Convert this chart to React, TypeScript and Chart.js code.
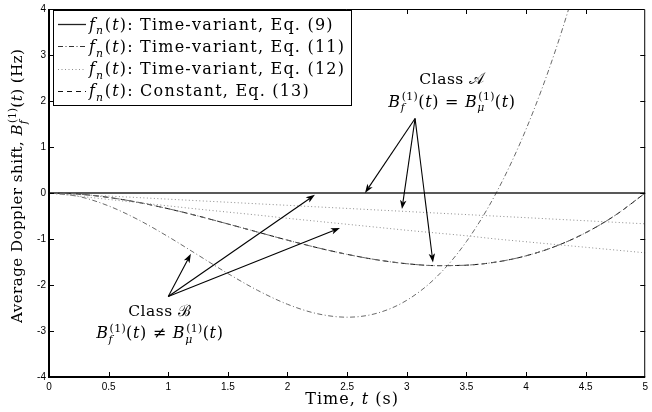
import React, { useEffect, useRef } from 'react';
import { Chart, registerables } from 'chart.js';

Chart.register(...registerables);

// ---------- data ----------
const timeS = [0, 0.25, 0.5, 0.75, 1, 1.25, 1.5, 1.75, 2, 2.25, 2.5, 2.75, 3, 3.25, 3.5, 3.75, 4, 4.25, 4.5, 4.75, 5];
const eq9Zero = [0, 0, 0, 0, 0, 0, 0, 0, 0, 0, 0, 0, 0, 0, 0, 0, 0, 0, 0, 0, 0];
const classACurve = [0, -0.025, -0.096, -0.204, -0.342, -0.5, -0.673, -0.85, -1.025, -1.189, -1.334, -1.453, -1.537, -1.579, -1.569, -1.501, -1.366, -1.157, -0.865, -0.482, 0];
const classBCurve = [0, -0.076, -0.281, -0.583, -0.95, -1.35, -1.75, -2.117, -2.419, -2.624, -2.7, -2.614, -2.333, -1.825, -1.058, 0, 1.382, 3.121, 5.249, 7.6, 10.3];
const eq12ClassA = [0, -0.034, -0.067, -0.1, -0.134, -0.168, -0.201, -0.235, -0.268, -0.302, -0.335, -0.369, -0.402, -0.436, -0.469, -0.503, -0.536, -0.57, -0.603, -0.637, -0.67];
const eq12ClassB = [0, -0.07, -0.14, -0.21, -0.28, -0.35, -0.415, -0.48, -0.55, -0.615, -0.68, -0.745, -0.81, -0.87, -0.93, -1.0, -1.06, -1.12, -1.18, -1.24, -1.3];
const xTickValues = [0, 0.5, 1, 1.5, 2, 2.5, 3, 3.5, 4, 4.5, 5];
const yTickValues = [-4, -3, -2, -1, 0, 1, 2, 3, 4];
const legendLabels = [
  'fₙ(t): Time-variant, Eq. (9)',
  'fₙ(t): Time-variant, Eq. (11)',
  'fₙ(t): Time-variant, Eq. (12)',
  'fₙ(t): Constant, Eq. (13)',
];

// annotation anchors (data coordinates)
const classAOrigin = [3.07, 1.62];
const classATargets = [[2.65, 0.0], [2.96, -0.35], [3.22, -1.51]];
const classBOrigin = [1.0, -2.25];
const classBTargets = [[1.19, -1.32], [2.23, -0.04], [2.44, -0.76]];

const SERIF = '"DejaVu Serif", "Liberation Serif", serif';
const SANS = '"Liberation Sans", Arial, sans-serif';

type Seg = { t: string; it?: boolean; sup?: string; sub?: string };

function fnt(it: boolean, size: number) {
  return `${it ? 'italic ' : ''}${size}px ${SERIF}`;
}

function setLS(ctx: any, ls: number) {
  try { ctx.letterSpacing = `${ls}px`; } catch (e) { /* ignore */ }
}

function segW(ctx: CanvasRenderingContext2D, s: Seg, size: number, ls: number) {
  setLS(ctx, ls);
  ctx.font = fnt(!!s.it, size);
  const w = ctx.measureText(s.t).width;
  const small = size * 0.68;
  let sw = 0;
  setLS(ctx, ls * 0.5);
  if (s.sup) { ctx.font = fnt(false, small); sw = Math.max(sw, ctx.measureText(s.sup).width); }
  if (s.sub) { ctx.font = fnt(true, small); sw = Math.max(sw, ctx.measureText(s.sub).width); }
  return { w, sw };
}

function richWidth(ctx: CanvasRenderingContext2D, segs: Seg[], size: number, ls: number) {
  return segs.reduce((a, s) => { const m = segW(ctx, s, size, ls); return a + m.w + (m.sw ? m.sw + 1 : 0); }, 0);
}

function drawRich(ctx: CanvasRenderingContext2D, segs: Seg[], x: number, y: number, size: number, align: 'left' | 'center', ls = 0) {
  let cx = align === 'center' ? x - richWidth(ctx, segs, size, ls) / 2 : x;
  ctx.textAlign = 'left';
  ctx.textBaseline = 'alphabetic';
  const small = size * 0.68;
  for (const s of segs) {
    const m = segW(ctx, s, size, ls);
    setLS(ctx, ls);
    ctx.font = fnt(!!s.it, size);
    ctx.fillText(s.t, cx, y);
    setLS(ctx, ls * 0.5);
    if (s.sup) { ctx.font = fnt(false, small); ctx.fillText(s.sup, cx + m.w + 1, y - size * 0.42); }
    if (s.sub) { ctx.font = fnt(true, small); ctx.fillText(s.sub, cx + m.w, y + size * 0.3); }
    cx += m.w + (m.sw ? m.sw + 1 : 0);
  }
  setLS(ctx, 0);
}

const bf: Seg = { t: 'B', it: true, sup: '(1)', sub: 'f' };
const bmu: Seg = { t: 'B', it: true, sup: '(1)', sub: 'μ' };
const eqA: Seg[] = [bf, { t: '(' }, { t: 't', it: true }, { t: ') = ' }, bmu, { t: '(' }, { t: 't', it: true }, { t: ')' }];
const eqB: Seg[] = [bf, { t: '(' }, { t: 't', it: true }, { t: ') ≠ ' }, bmu, { t: '(' }, { t: 't', it: true }, { t: ')' }];
const yTitle: Seg[] = [{ t: 'Average Doppler shift, ' }, bf, { t: '(' }, { t: 't', it: true }, { t: ') (Hz)' }];
const xTitle: Seg[] = [{ t: 'Time, ' }, { t: 't', it: true }, { t: ' (s)' }];

function legendSegs(label: string): Seg[] {
  const rest = label.slice(5);
  return [{ t: 'f', it: true, sub: 'n' }, { t: '(' }, { t: 't', it: true }, { t: ')' + rest }];
}

function arrow(ctx: CanvasRenderingContext2D, x0: number, y0: number, x1: number, y1: number) {
  const ang = Math.atan2(y1 - y0, x1 - x0);
  const L = 9, H = 3.2;
  const bx = x1 - Math.cos(ang) * L * 0.75;
  const by = y1 - Math.sin(ang) * L * 0.75;
  ctx.beginPath();
  ctx.moveTo(x0, y0);
  ctx.lineTo(bx, by);
  ctx.stroke();
  ctx.beginPath();
  ctx.moveTo(x1, y1);
  ctx.lineTo(x1 - Math.cos(ang) * L + Math.sin(ang) * H, y1 - Math.sin(ang) * L - Math.cos(ang) * H);
  ctx.lineTo(bx, by);
  ctx.lineTo(x1 - Math.cos(ang) * L - Math.sin(ang) * H, y1 - Math.sin(ang) * L + Math.cos(ang) * H);
  ctx.closePath();
  ctx.fill();
}

const decor = {
  id: 'decor',
  afterDraw(chart: any) {
    const { ctx, chartArea: a, scales } = chart;
    const xs = scales.x, ys = scales.y;
    ctx.save();
    ctx.strokeStyle = '#000';
    ctx.fillStyle = '#000';
    // frame
    ctx.lineWidth = 1;
    ctx.beginPath();
    ctx.moveTo(a.left, a.top + 0.5); ctx.lineTo(a.right - 0.5, a.top + 0.5); ctx.lineTo(a.right - 0.5, a.bottom);
    ctx.stroke();
    ctx.lineWidth = 2;
    ctx.beginPath();
    ctx.moveTo(a.left, a.top); ctx.lineTo(a.left, a.bottom); ctx.lineTo(a.right, a.bottom);
    ctx.stroke();
    // inward ticks
    ctx.lineWidth = 1;
    ctx.beginPath();
    for (const t of xs.ticks) {
      const px = Math.round(xs.getPixelForValue(t.value)) + 0.5;
      if (t.value === xs.min || t.value === xs.max) continue;
      ctx.moveTo(px, a.bottom); ctx.lineTo(px, a.bottom - 5);
      ctx.moveTo(px, a.top); ctx.lineTo(px, a.top + 5);
    }
    for (const t of ys.ticks) {
      const py = Math.round(ys.getPixelForValue(t.value)) + 0.5;
      if (t.value === ys.min || t.value === ys.max) continue;
      ctx.moveTo(a.left, py); ctx.lineTo(a.left + 5, py);
      ctx.moveTo(a.right, py); ctx.lineTo(a.right - 5, py);
    }
    ctx.stroke();

    // legend
    const items = chart.data.datasets.filter((d: any) => !d.hideInLegend);
    const lx = 53.5, ly = 10.5, lw = 298, lh = 95;
    ctx.fillStyle = '#fff';
    ctx.fillRect(lx, ly, lw, lh);
    ctx.strokeStyle = '#000';
    ctx.lineWidth = 1;
    ctx.strokeRect(lx, ly, lw, lh);
    items.forEach((d: any, i: number) => {
      const cy = 24 + i * 22.3;
      ctx.save();
      ctx.strokeStyle = d.legendColor || d.borderColor;
      ctx.lineWidth = d.borderWidth;
      ctx.setLineDash(d.legendDash || d.borderDash || []);
      ctx.beginPath();
      ctx.moveTo(58, Math.round(cy) + 0.5);
      ctx.lineTo(86, Math.round(cy) + 0.5);
      ctx.stroke();
      ctx.restore();
      ctx.fillStyle = '#000';
      drawRich(ctx, legendSegs(d.label), 89, cy + 5.5, 16, 'left', 1.2);
    });

    // arrows
    ctx.strokeStyle = '#000';
    ctx.fillStyle = '#000';
    ctx.lineWidth = 1.1;
    const ao = [xs.getPixelForValue(classAOrigin[0]), ys.getPixelForValue(classAOrigin[1])];
    for (const tg of classATargets) arrow(ctx, ao[0], ao[1], xs.getPixelForValue(tg[0]), ys.getPixelForValue(tg[1]));
    const bo = [xs.getPixelForValue(classBOrigin[0]), ys.getPixelForValue(classBOrigin[1])];
    for (const tg of classBTargets) arrow(ctx, bo[0], bo[1], xs.getPixelForValue(tg[0]), ys.getPixelForValue(tg[1]));

    // annotation text
    ctx.fillStyle = '#000';
    drawRich(ctx, [{ t: 'Class ' }, { t: '𝒜' }], xs.getPixelForValue(3.38), ys.getPixelForValue(2.36), 15.5, 'center', 0.5);
    drawRich(ctx, eqA, xs.getPixelForValue(3.38), ys.getPixelForValue(1.88), 16, 'center', 0.7);
    drawRich(ctx, [{ t: 'Class ' }, { t: 'ℬ' }], xs.getPixelForValue(0.93), ys.getPixelForValue(-2.68), 15.5, 'center', 0.5);
    drawRich(ctx, eqB, xs.getPixelForValue(0.93), ys.getPixelForValue(-3.16), 16, 'center', 0.7);

    // axis titles
    drawRich(ctx, xTitle, (a.left + a.right) / 2 + 5, 404, 16, 'center', 1);
    ctx.save();
    ctx.translate(22, 323);
    ctx.rotate(-Math.PI / 2);
    drawRich(ctx, yTitle, 0, 0, 15, 'left', 0.5);
    ctx.restore();
    ctx.restore();
  },
};

export default function App() {
  const ref = useRef<HTMLCanvasElement | null>(null);
  useEffect(() => {
    document.body.style.margin = '0';
    const pts = (ys: number[]) => timeS.map((t, i) => ({ x: t, y: ys[i] }));
    const chart = new Chart(ref.current as HTMLCanvasElement, {
      type: 'line',
      data: {
        datasets: [
          { label: 'hidden-11A', data: pts(classACurve), borderColor: '#6a6a6a', borderWidth: 1, borderDash: [5, 2.5, 1, 2.5], hideInLegend: true } as any,
          { label: 'hidden-12B', data: pts(eq12ClassB), borderColor: '#8c8c8c', borderWidth: 1, borderDash: [1, 2.5], hideInLegend: true } as any,
          { label: legendLabels[0], data: pts(eq9Zero), borderColor: '#222', borderWidth: 1.3 } as any,
          { label: legendLabels[1], data: pts(classBCurve), borderColor: '#6a6a6a', borderWidth: 1, borderDash: [5, 2.5, 1, 2.5], legendColor: '#333' } as any,
          { label: legendLabels[2], data: pts(eq12ClassA), borderColor: '#8c8c8c', borderWidth: 1, borderDash: [1, 2.5] } as any,
          { label: legendLabels[3], data: pts(classACurve), borderColor: '#111', borderWidth: 1, borderDash: [5, 4] } as any,
        ],
      },
      options: {
        animation: false,
        responsive: false,
        devicePixelRatio: 1,
        layout: { padding: { top: 7, right: 3, left: 0, bottom: 0 } },
        elements: { point: { radius: 0 }, line: { cubicInterpolationMode: 'monotone', fill: false } },
        plugins: { legend: { display: false }, tooltip: { enabled: false } },
        scales: {
          x: {
            type: 'linear', min: 0, max: 5,
            afterBuildTicks: (s: any) => { s.ticks = xTickValues.map((value) => ({ value })); },
            afterFit: (s: any) => { s.height = 35; },
            grid: { display: false, drawTicks: false, tickLength: 0 }, border: { display: false },
            ticks: { color: '#000', font: { family: SANS, size: 10 }, padding: 4, maxRotation: 0, autoSkip: false, callback: (v: any) => String(v) },
          },
          y: {
            type: 'linear', min: -4, max: 4,
            afterBuildTicks: (s: any) => { s.ticks = yTickValues.map((value) => ({ value })); },
            afterFit: (s: any) => { s.width = 49; },
            grid: { display: false, drawTicks: false, tickLength: 0 }, border: { display: false },
            ticks: { color: '#000', font: { family: SANS, size: 10 }, padding: 3, autoSkip: false, callback: (v: any) => String(v) },
          },
        },
      } as any,
      plugins: [decor],
    });
    return () => chart.destroy();
  }, []);
  return (
    <div style={{ position: 'fixed', left: 0, top: 0, width: 652, height: 412, background: '#fff' }}>
      <canvas ref={ref} width={652} height={412} style={{ display: 'block' }} />
    </div>
  );
}
